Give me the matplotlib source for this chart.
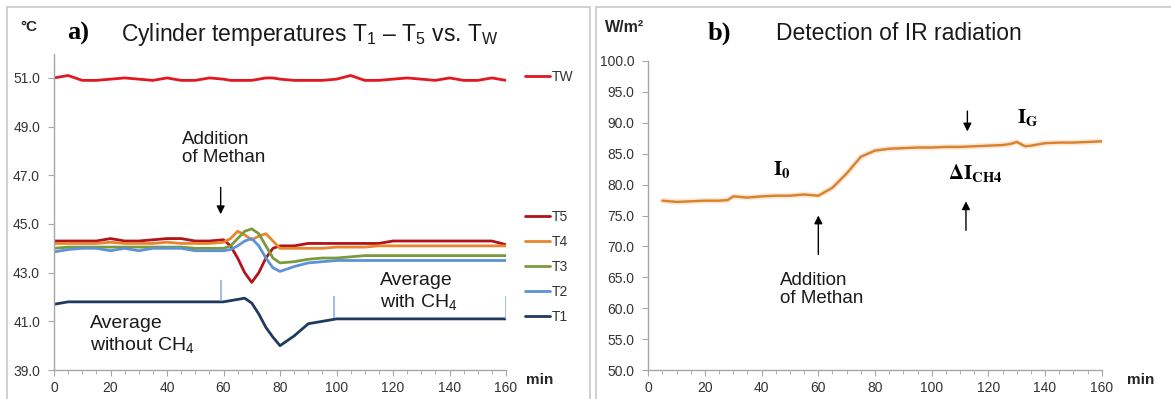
import matplotlib
matplotlib.use("Agg")
import matplotlib.pyplot as plt
from matplotlib.patches import Rectangle
from matplotlib.ticker import MultipleLocator, FormatStrFormatter

plt.rcParams["font.family"] = ["Liberation Sans", "DejaVu Sans"]
plt.rcParams["mathtext.fontset"] = "custom"
plt.rcParams["mathtext.rm"] = "Liberation Sans"
plt.rcParams["mathtext.it"] = "Liberation Sans:italic"
plt.rcParams["mathtext.bf"] = "Liberation Sans:bold"

W, H = 1171, 399

# panel a: cylinder temperatures (deg C) over time (min)
t_a = [0, 5, 10, 15, 20, 25, 30, 35, 40, 45, 50, 55, 60, 62.5, 65, 67.5, 70,
       72.5, 75, 77.5, 80, 85, 90, 95, 100, 105, 110, 115, 120, 125, 130, 135,
       140, 145, 150, 155, 160]
tw = [51.0, 51.1, 50.9, 50.9, 50.95, 51.0, 50.95, 50.9, 51.0, 50.9, 50.9, 51.0,
      50.95, 50.9, 50.9, 50.9, 50.9, 50.95, 51.0, 51.0, 50.95, 50.9, 50.9, 50.9,
      50.95, 51.1, 50.9, 50.9, 50.95, 51.0, 50.95, 50.9, 51.0, 50.9, 50.9, 51.0,
      50.9]
t5 = [44.3, 44.3, 44.3, 44.3, 44.4, 44.3, 44.3, 44.35, 44.4, 44.4, 44.3, 44.3,
      44.35, 44.1, 43.6, 43.0, 42.6, 43.0, 43.6, 44.0, 44.1, 44.1, 44.2, 44.2,
      44.2, 44.2, 44.2, 44.2, 44.3, 44.3, 44.3, 44.3, 44.3, 44.3, 44.3, 44.3,
      44.15]
t4 = [44.2, 44.2, 44.2, 44.2, 44.25, 44.2, 44.2, 44.2, 44.25, 44.2, 44.2, 44.2,
      44.25, 44.4, 44.7, 44.55, 44.35, 44.5, 44.6, 44.3, 44.0, 44.0, 44.0, 44.0,
      44.05, 44.05, 44.05, 44.1, 44.1, 44.1, 44.1, 44.1, 44.1, 44.1, 44.1, 44.1,
      44.1]
t3 = [44.0, 44.05, 44.05, 44.05, 44.05, 44.05, 44.05, 44.05, 44.05, 44.05,
      44.0, 44.0, 44.0, 44.1, 44.4, 44.7, 44.8, 44.6, 44.1, 43.6, 43.4, 43.45,
      43.55, 43.6, 43.6, 43.65, 43.7, 43.7, 43.7, 43.7, 43.7, 43.7, 43.7, 43.7,
      43.7, 43.7, 43.7]
t2 = [43.85, 43.95, 44.0, 44.0, 43.9, 44.0, 43.9, 44.0, 44.0, 44.0, 43.9, 43.9,
      43.9, 43.95, 44.1, 44.3, 44.4, 44.1, 43.6, 43.2, 43.05, 43.25, 43.4, 43.45,
      43.5, 43.5, 43.5, 43.5, 43.5, 43.5, 43.5, 43.5, 43.5, 43.5, 43.5, 43.5,
      43.5]
t1 = [41.7, 41.8, 41.8, 41.8, 41.8, 41.8, 41.8, 41.8, 41.8, 41.8, 41.8, 41.8,
      41.8, 41.85, 41.9, 41.95, 41.75, 41.3, 40.75, 40.35, 40.0, 40.4, 40.9,
      41.0, 41.1, 41.1, 41.1, 41.1, 41.1, 41.1, 41.1, 41.1, 41.1, 41.1, 41.1,
      41.1, 41.1]
series_a = ["TW", "T5", "T4", "T3", "T2", "T1"]
colors_a = ["#E3171F", "#B3121B", "#E8862F", "#7A9A3C", "#5B93D6", "#1F3A5F"]

# small marker ticks bounding the averaging windows
avg_t = [59, 99, 160]
avg_lo = [41.85, 41.15, 41.1]
avg_hi = [42.7, 42.05, 42.05]

# panel b: IR radiation (W/m2)
t_b = [5, 10, 15, 20, 25, 28, 30, 35, 40, 45, 50, 55, 60, 65, 70, 75, 80, 85,
       90, 95, 100, 105, 110, 115, 120, 125, 128, 130, 133, 135, 140, 145, 150,
       155, 160]
ir = [77.4, 77.2, 77.3, 77.4, 77.4, 77.5, 78.1, 77.9, 78.1, 78.2, 78.2, 78.4,
      78.2, 79.5, 81.8, 84.5, 85.5, 85.8, 85.9, 86.0, 86.0, 86.1, 86.1, 86.2,
      86.3, 86.4, 86.6, 86.9, 86.2, 86.3, 86.7, 86.8, 86.8, 86.9, 87.0]


def fx(x):
    return x / W


def fy(y):
    return 1 - y / H


fig = plt.figure(figsize=(W / 100, H / 100), dpi=100)

# panel frames
fig.add_artist(Rectangle((fx(7), fy(420)), fx(583), 413 / H, fill=False,
                         edgecolor="#C8C8C8", lw=1.2, transform=fig.transFigure))
fig.add_artist(Rectangle((fx(596), fy(420)), fx(600), 413 / H, fill=False,
                         edgecolor="#C8C8C8", lw=1.2, transform=fig.transFigure))

ax1 = fig.add_axes([fx(54), fy(370), 452 / W, (370 - 53.6) / H])
ax2 = fig.add_axes([fx(648.3), fy(370), 453.4 / W, (370 - 61) / H])


def style_axis(ax):
    for s in ["top", "right"]:
        ax.spines[s].set_visible(False)
    for s in ["left", "bottom"]:
        ax.spines[s].set_color("#A6A6A6")
        ax.spines[s].set_linewidth(1.0)
    ax.xaxis.set_major_locator(MultipleLocator(20))
    ax.xaxis.set_minor_locator(MultipleLocator(5))
    ax.tick_params(which="both", colors="#A6A6A6", labelcolor="#333333",
                   labelsize=10, direction="out")
    ax.tick_params(axis="y", length=4, pad=6)
    ax.tick_params(axis="x", which="major", length=4, pad=4)
    ax.tick_params(axis="x", which="minor", length=3)
    ax.yaxis.set_major_formatter(FormatStrFormatter("%.1f"))
    ax.set_xlim(0, 160)


arrow = dict(arrowstyle="-|>", color="black", lw=1.0, mutation_scale=12,
             shrinkA=0, shrinkB=0)

lines = {}
for name, vals, col in zip(series_a, [tw, t5, t4, t3, t2, t1], colors_a):
    (lines[name],) = ax1.plot(t_a, vals, color=col, lw=2.0,
                              solid_capstyle="round")
ax1.vlines(avg_t, avg_lo, avg_hi, color="#8DB3E2", lw=1.2)
ax1.set_ylim(39, 52)
ax1.set_yticks([39, 41, 43, 45, 47, 49, 51])
style_axis(ax1)

leg1 = ax1.legend([lines["TW"]], ["TW"], loc="center left",
                  bbox_to_anchor=(fx(525), fy(77)),
                  bbox_transform=fig.transFigure, frameon=False, fontsize=10,
                  handlelength=1.8, handletextpad=0.15, borderpad=0,
                  borderaxespad=0, labelcolor="#333333")
ax1.add_artist(leg1)
ax1.legend([lines[n] for n in series_a[1:]], series_a[1:], loc="center left",
           bbox_to_anchor=(fx(525), fy(267)), bbox_transform=fig.transFigure,
           frameon=False, fontsize=10, handlelength=1.8, handletextpad=0.15,
           labelspacing=0.78, borderpad=0, borderaxespad=0,
           labelcolor="#333333")

ax1.annotate("", xy=(59, 45.4), xytext=(59, 46.5), arrowprops=arrow)
ax1.text(45.3, 48.1, "Addition\nof Methan", fontsize=13.5, color="#1A1A1A",
         ha="left", va="center", linespacing=1.05)
ax1.text(12.7, 40.45, "Average\nwithout $\\mathrm{CH_4}$", fontsize=14,
         color="#1A1A1A", ha="left", va="center", linespacing=1.2)
ax1.text(115.4, 42.2, "Average\nwith $\\mathrm{CH_4}$", fontsize=14,
         color="#1A1A1A", ha="left", va="center", linespacing=1.2)

# panel b
ax2.plot(t_b, ir, color="#F7CFA6", lw=4.0, alpha=0.5, solid_capstyle="round")
ax2.plot(t_b, ir, color="#D9812E", lw=1.7, solid_capstyle="round")
ax2.set_ylim(50, 100)
ax2.yaxis.set_major_locator(MultipleLocator(5))
style_axis(ax2)

ax2.annotate("", xy=(60, 75.0), xytext=(60, 68.7), arrowprops=arrow)
ax2.text(46.6, 63.0, "Addition\nof Methan", fontsize=13.5, color="#1A1A1A",
         ha="left", va="center", linespacing=1.05)
ax2.text(47.2, 82.5, r"$\mathbf{I_0}$", fontsize=15, math_fontfamily="stix",
         ha="center", va="center")
ax2.text(134, 90.8, r"$\mathbf{I_G}$", fontsize=15, math_fontfamily="stix",
         ha="center", va="center")
ax2.text(115.3, 81.9, r"$\mathbf{\Delta I_{CH4}}$", fontsize=15,
         math_fontfamily="stix", ha="center", va="center")
ax2.annotate("", xy=(112.6, 88.6), xytext=(112.6, 91.9), arrowprops=arrow)
ax2.annotate("", xy=(112.1, 77.3), xytext=(112.1, 72.6), arrowprops=arrow)

# titles and unit labels
fig.text(fx(67), fy(33), "a)", fontsize=19, fontweight="bold",
         family="Liberation Serif", va="center", ha="left")
fig.text(fx(121), fy(34),
         "Cylinder temperatures $\\mathrm{T_1}$ \u2013 $\\mathrm{T_5}$ vs. "
         "$\\mathrm{T_W}$", fontsize=16.5, va="center", ha="left",
         color="#1A1A1A")
fig.text(fx(20), fy(27), "\u00b0C", fontsize=11, fontweight="bold",
         va="center", ha="left", color="#262626")
fig.text(fx(526), fy(380), "min", fontsize=11, fontweight="bold",
         va="center", ha="left", color="#262626")

fig.text(fx(708), fy(33), "b)", fontsize=19, fontweight="bold",
         family="Liberation Serif", va="center", ha="left")
fig.text(fx(776), fy(34), "Detection of IR radiation", fontsize=16.5,
         va="center", ha="left", color="#1A1A1A")
fig.text(fx(605), fy(27), "W/m\u00b2", fontsize=11.5, fontweight="bold",
         va="center", ha="left", color="#262626")
fig.text(fx(1127), fy(380), "min", fontsize=11, fontweight="bold",
         va="center", ha="left", color="#262626")

fig.savefig("out.png", dpi=100)
